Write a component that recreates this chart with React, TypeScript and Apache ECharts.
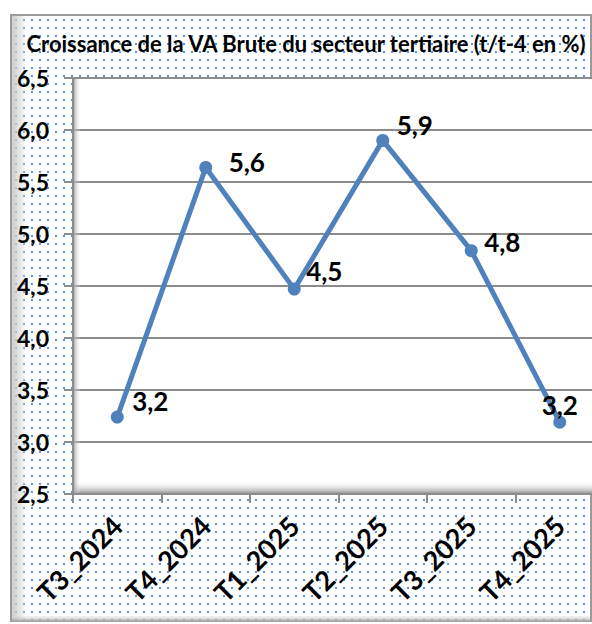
import React, { useEffect, useRef } from "react";
import * as echarts from "echarts";

const title = "Croissance de la VA Brute du secteur tertiaire (t/t-4 en %)";
const categories = ["T3_2024", "T4_2024", "T1_2025", "T2_2025", "T3_2025", "T4_2025"];
const values = [3.24, 5.64, 4.47, 5.9, 4.84, 3.19];
const yMin = 2.5;
const yMax = 6.5;
const yStep = 0.5;

// per-point label offsets (label centre relative to the point)
const labelOffsets = [
  [33, -16],
  [41, -5],
  [30, -18],
  [32, -15],
  [31, -9],
  [0, -17],
];

const FONT = "Lato, 'Open Sans', sans-serif";
const fmt = (v: number) => v.toFixed(1).replace(".", ",");

export default function App() {
  const ref = useRef<HTMLDivElement>(null);
  useEffect(() => {
    if (!ref.current) return;
    const chart = echarts.init(ref.current, undefined, { renderer: "svg" });
    const data = values.map((v, i) => ({
      value: v,
      label: { position: "inside", offset: labelOffsets[i] },
    }));
    chart.setOption({
      animation: false,
      backgroundColor: "transparent",
      title: {
        text: title,
        left: 301,
        textAlign: "center",
        top: 27,
        textStyle: { fontFamily: FONT, fontWeight: "bold", fontSize: 22, color: "#000" },
      },
      grid: {
        left: 73,
        top: 78,
        width: 531,
        height: 416,
        outerBoundsMode: "none",
        containLabel: false,
        show: true,
        backgroundColor: "#fff",
        borderColor: "#8c8c8c",
        borderWidth: 2,
      },
      graphic: {
        elements: [
          {
            type: "rect",
            silent: true,
            z: 10,
            shape: { x: 74, y: 481, width: 520, height: 12 },
            style: {
              fill: new echarts.graphic.LinearGradient(0, 0, 0, 1, [
                { offset: 0, color: "rgba(255,255,255,0)" },
                { offset: 1, color: "rgba(140,140,140,0.85)" },
              ]),
            },
          },
          {
            type: "rect",
            silent: true,
            z: 10,
            shape: { x: 74, y: 79, width: 7, height: 414 },
            style: {
              fill: new echarts.graphic.LinearGradient(0, 0, 1, 0, [
                { offset: 0, color: "rgba(160,160,160,0.8)" },
                { offset: 1, color: "rgba(255,255,255,0)" },
              ]),
            },
          },
        ],
      },
      xAxis: {
        type: "category",
        data: categories,
        boundaryGap: true,
        axisLine: { show: true, lineStyle: { color: "#8c8c8c", width: 2 } },
        axisTick: { show: true, length: 9, lineStyle: { color: "#8c8c8c", width: 2 } },
        axisLabel: {
          rotate: 45,
          margin: 27,
          fontFamily: FONT,
          fontWeight: "bold",
          fontSize: 27,
          color: "#000",
          interval: 0,
        },
        splitLine: { show: false },
      },
      yAxis: {
        type: "value",
        min: yMin,
        max: yMax,
        interval: yStep,
        axisLine: { show: true, lineStyle: { color: "#8c8c8c", width: 2 } },
        axisTick: { show: true, length: 9, lineStyle: { color: "#8c8c8c", width: 2 } },
        axisLabel: {
          formatter: (v: number) => fmt(v),
          margin: 24,
          fontFamily: FONT,
          fontWeight: "bold",
          fontSize: 23,
          color: "#000",
        },
        splitLine: { show: true, lineStyle: { color: "#8c8c8c", width: 2 } },
      },
      series: [
        {
          type: "line",
          z: 3,
          data,
          symbol: "circle",
          symbolSize: 13,
          lineStyle: { color: "#4F81BD", width: 5 },
          itemStyle: { color: "#4F81BD" },
          label: {
            show: true,
            formatter: (p: any) => fmt(p.value),
            fontFamily: FONT,
            fontWeight: "bold",
            fontSize: 26,
            color: "#000",
          },
        },
      ],
    });
    return () => chart.dispose();
  }, []);

  const dots =
    "radial-gradient(circle, #5f95e0 1.1px, rgba(255,255,255,0) 1.6px) 0 0 / 8px 8px, #fff";

  return (
    <div style={{ position: "fixed", left: 0, top: 0, width: 592, height: 624, background: "#fff", overflow: "hidden" }}>
      <div
        style={{
          position: "absolute",
          left: 10,
          top: 14,
          width: 578,
          height: 604,
          border: "2px solid #9a9a9a",
          background: dots,
        }}
      />
      <div
        style={{
          position: "absolute",
          left: 12,
          top: 16,
          width: 13,
          height: 604,
          background: "linear-gradient(to right, rgba(200,200,200,0.9), rgba(230,230,230,0.3))",
        }}
      />
      <div
        style={{
          position: "absolute",
          left: 12,
          top: 616,
          width: 578,
          height: 6,
          background: "linear-gradient(to bottom, rgba(230,230,230,0.3), rgba(170,170,170,0.9))",
        }}
      />
      <div ref={ref} style={{ position: "absolute", left: 0, top: 0, width: 592, height: 624 }} />
    </div>
  );
}
